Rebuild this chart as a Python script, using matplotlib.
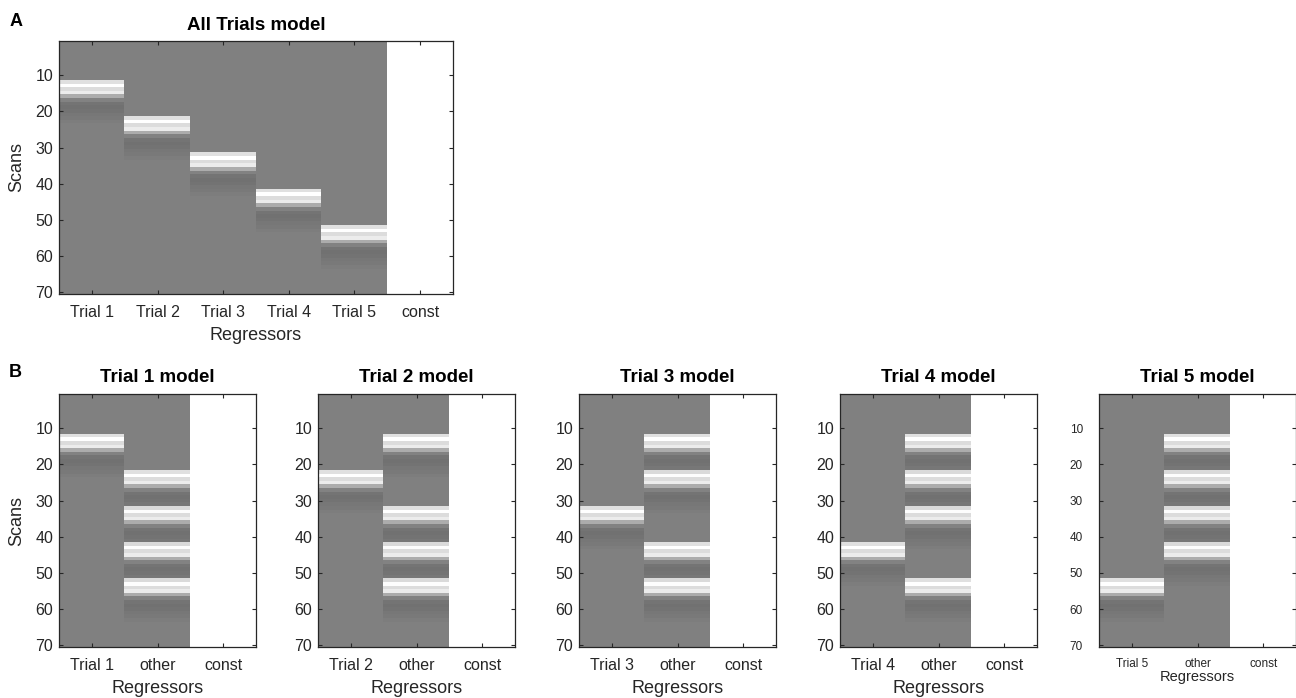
import numpy as np
import matplotlib
matplotlib.use("Agg")
import matplotlib.pyplot as plt

plt.rcParams['font.family'] = ['Liberation Sans', 'DejaVu Sans']

# design matrix settings
n_scans = 70
onsets = [12, 22, 32, 42, 52]
trial_names = ['Trial 1', 'Trial 2', 'Trial 3', 'Trial 4', 'Trial 5']
# convolved response, one value per scan starting at the onset scan
hrf_profile = [0.75, 1.0, 0.72, 0.85, 0.35, 0.02, -0.09, -0.11, -0.10, -0.07, -0.04, -0.02]
scan_ticks = [10, 20, 30, 40, 50, 60, 70]

W, H = 1296, 698
fig = plt.figure(figsize=(W / 100, H / 100), dpi=100)

TXT = '#262626'


def box(l, t, r, b):
    return [l / W, 1 - b / H, (r - l) / W, (b - t) / H]


def label(x, y, s, **kw):
    fig.text(x / W, 1 - y / H, s, **kw)


def regressor(onset):
    col = np.zeros(n_scans)
    for k, v in enumerate(hrf_profile):
        if onset - 1 + k < n_scans:
            col[onset - 1 + k] += v
    return col


def scaled(cols):
    m = np.column_stack(cols)
    return m / np.abs(m).max(axis=0)


def draw_matrix(rect, mat, names, title, ylab=True, small=False):
    l, t, r, b = rect
    ax = fig.add_axes(box(l, t, r, b))
    ncol = mat.shape[1]
    ax.imshow(mat, cmap='gray', vmin=-1, vmax=1, aspect='auto',
              interpolation='nearest',
              extent=(0.5, ncol + 0.5, n_scans + 0.5, 0.5))
    ax.set_xlim(0.5, ncol + 0.5)
    ax.set_ylim(n_scans + 0.5, 0.5)
    ax.set_xticks(range(1, ncol + 1))
    ax.set_xticklabels(names)
    ax.set_yticks(scan_ticks)
    fs = 8.5 if small else 11.5
    ax.tick_params(direction='in', top=True, right=True, length=3, width=0.8,
                   color=TXT, labelcolor=TXT, labelsize=fs)
    ax.tick_params(axis='x', pad=8)
    ax.tick_params(axis='y', pad=11.5 if small else 4.3)
    for sp in ax.spines.values():
        sp.set_color(TXT)
        sp.set_linewidth(0.9)
    cx = (l + r) / 2
    label(cx, t - 16, title, ha='center', va='center', fontsize=13.5,
          fontweight='bold', color='black')
    label(cx, b + 23 if small else b + 33, 'Regressors', ha='center', va='top',
          fontsize=10.5 if small else 13, color=TXT)
    if ylab:
        label(17, (t + b) / 2, 'Scans', ha='center', va='center', rotation=90,
              fontsize=13, color=TXT)
    return ax


regs = [regressor(o) for o in onsets]
const = np.ones(n_scans)

# A: all trials in one model
all_trials = scaled(regs + [const])
draw_matrix((59, 41, 453, 294), all_trials, trial_names + ['const'],
            'All Trials model')

# B: one model per trial, other trials pooled
lefts = [59, 318, 579, 840, 1099]
for i, l in enumerate(lefts):
    others = sum(regs[j] for j in range(len(regs)) if j != i)
    mat = scaled([regs[i], others, const])
    draw_matrix((l, 394, l + 197, 647), mat, [trial_names[i], 'other', 'const'],
                f'Trial {i + 1} model', ylab=(i == 0), small=(i == 4))

label(16, 22, 'A', ha='center', va='center', fontsize=13, fontweight='bold')
label(15, 372, 'B', ha='center', va='center', fontsize=13, fontweight='bold')

fig.savefig('out.png', dpi=100)
